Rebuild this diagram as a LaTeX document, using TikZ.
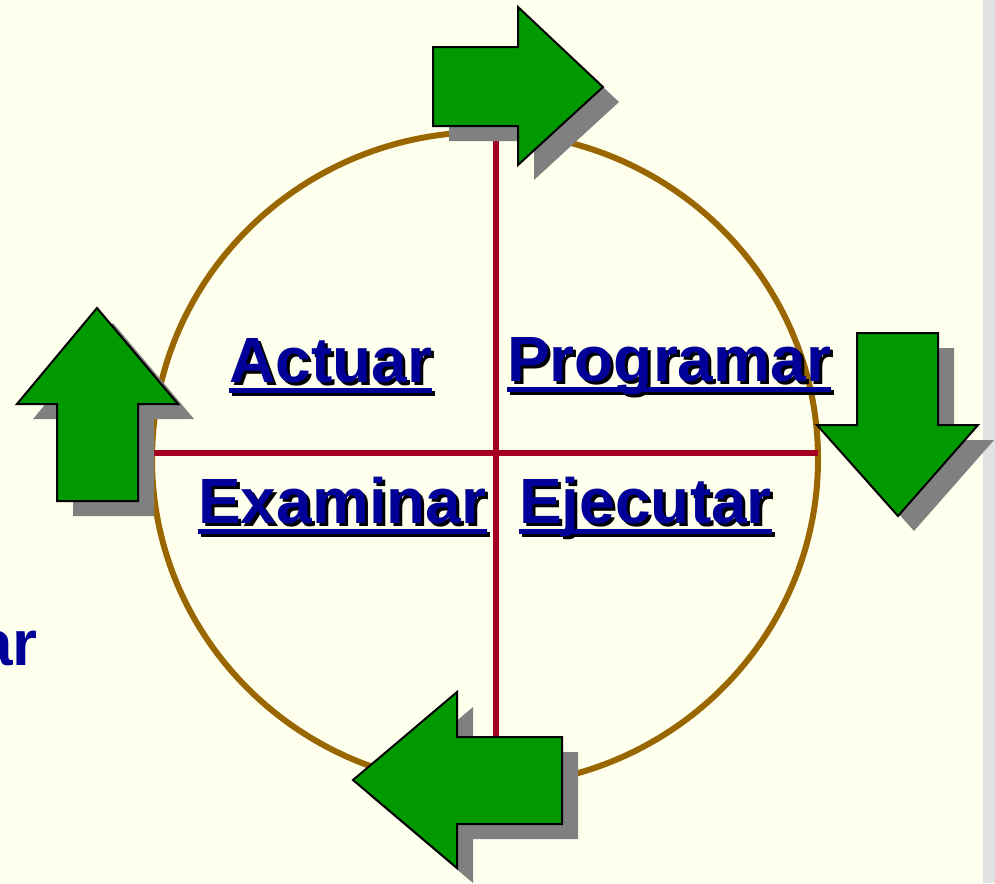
\documentclass[tikz,border=0pt]{standalone}
\usepackage{fontspec}
\setmainfont{Liberation Sans}
\usetikzlibrary{calc}
\definecolor{fondo}{HTML}{FFFFEE}
\definecolor{borde}{HTML}{E2E2E2}
\definecolor{aro}{HTML}{996600}
\definecolor{cruz}{HTML}{A50021}
\definecolor{verde}{HTML}{009900}
\definecolor{azul}{HTML}{000099}
\definecolor{gris}{HTML}{808080}
\tikzset{
  sombra/.style={fill=gris},
  flecha/.style={fill=verde, draw=black, line width=1.5pt, line join=miter},
  palabra/.style={inner sep=0pt, anchor=base west, text=azul,
    font=\bfseries\fontsize{48}{58}\selectfont},
  raya/.style={line width=4pt},
}
% rotulo subrayado con sombra: nombre, posicion, texto
\newcommand{\rotulo}[3]{%
  \node[palabra, text=black] (#1s) at ($#2+(3,3)$) {#3};
  \draw[raya, black] ($(#1s.base west)+(0,8.5)$) -- ($(#1s.base east)+(0,8.5)$);
  \node[palabra] (#1) at #2 {#3};
  \draw[raya, azul] ($(#1.base west)+(0,8.5)$) -- ($(#1.base east)+(0,8.5)$);
}
\begin{document}
\begin{tikzpicture}[x=0.75pt, y=-0.75pt]
    \clip (0,0) rectangle (995,883);
    \fill[fondo] (0,0) rectangle (995,883);
    \fill[borde] (983,0) rectangle (995,883);

    % aro y cruz
    \draw[aro, line width=4.5pt] (485,459) ellipse [x radius=333, y radius=327];
    \coordinate (norte) at (496,132);
    \coordinate (sur) at (496,786);
    \coordinate (oeste) at (153,453);
    \coordinate (este) at (818,453);
    \draw[cruz, line width=5pt] (norte) -- (sur);
    \draw[cruz, line width=5pt] (oeste) -- (este);

    % flechas
    \begin{scope}[shift={(16,15)}]
        \fill[sombra] (433,47) -- (518,47) -- (518,7) -- (603,87) -- (518,165) -- (518,126) -- (433,126) -- cycle;
        \fill[sombra] (857,333) -- (938,333) -- (938,425) -- (978,425) -- (898,516) -- (817,425) -- (857,425) -- cycle;
        \fill[sombra] (57,501) -- (57,404) -- (17,404) -- (97,308) -- (178,404) -- (138,404) -- (138,501) -- cycle;
        \fill[sombra] (562,737) -- (457,737) -- (457,692) -- (353,780) -- (457,868) -- (457,824) -- (562,824) -- cycle;
    \end{scope}
    \filldraw[flecha] (433,47) -- (518,47) -- (518,7) -- (603,87) -- (518,165) -- (518,126) -- (433,126) -- cycle;
    \filldraw[flecha] (857,333) -- (938,333) -- (938,425) -- (978,425) -- (898,516) -- (817,425) -- (857,425) -- cycle;
    \filldraw[flecha] (57,501) -- (57,404) -- (17,404) -- (97,308) -- (178,404) -- (138,404) -- (138,501) -- cycle;
    \filldraw[flecha] (562,737) -- (457,737) -- (457,692) -- (353,780) -- (457,868) -- (457,824) -- (562,824) -- cycle;

    % rotulos
    \rotulo{actuar}{(229,382)}{Actuar}
    \rotulo{programar}{(507,381)}{Programar}
    \rotulo{examinar}{(198,523)}{Examinar}
    \rotulo{ejecutar}{(519,523)}{Ejecutar}
    \node[palabra, anchor=base east] (resto) at (38,665) {ar};
\end{tikzpicture}
\end{document}
